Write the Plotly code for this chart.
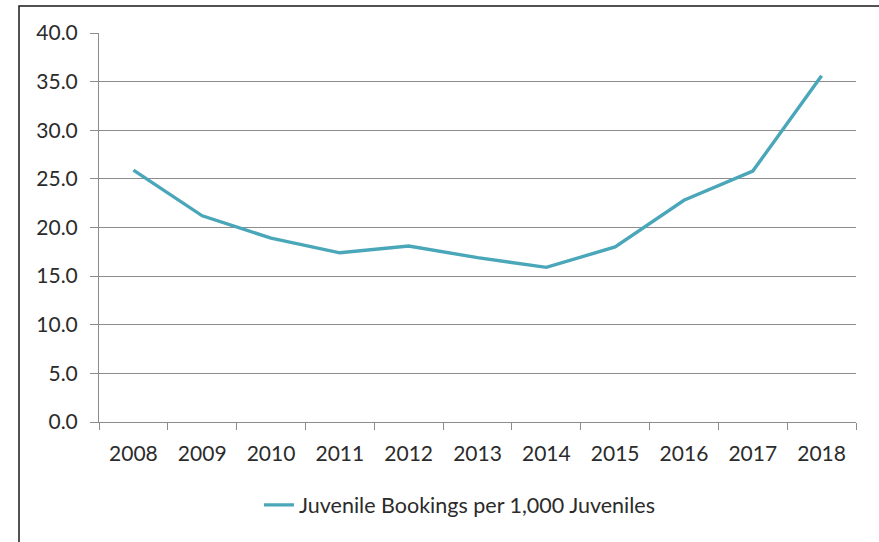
import plotly.graph_objects as go

years = ["2008", "2009", "2010", "2011", "2012", "2013", "2014", "2015", "2016", "2017", "2018"]
bookings = [25.9, 21.2, 18.9, 17.4, 18.1, 16.9, 15.9, 18.0, 22.8, 25.8, 35.6]
y_ticks = [0, 5, 10, 15, 20, 25, 30, 35, 40]
y_tick_labels = ["0.0", "5.0", "10.0", "15.0", "20.0", "25.0", "30.0", "35.0", "40.0"]
series_name = "Juvenile Bookings per 1,000 Juveniles"

font_family = "Lato, 'Open Sans', sans-serif"
text_color = "#2b2b2b"
grid_color = "#8c8c8c"

fig = go.Figure()
fig.add_trace(go.Scatter(
    x=years, y=bookings, mode="lines", name=series_name,
    line=dict(color="#4aa6b9", width=3.4),
))

fig.update_layout(
    width=879, height=542,
    margin=dict(l=99, r=23, t=33, b=120),
    paper_bgcolor="white", plot_bgcolor="white",
    font=dict(family=font_family, size=21, color=text_color),
    showlegend=True,
    legend=dict(
        orientation="h", x=0.2114, xanchor="left", y=-0.213, yanchor="middle",
        font=dict(family=font_family, size=21.5, color=text_color),
        bgcolor="rgba(0,0,0,0)",
    ),
    xaxis=dict(
        type="category", range=[-0.5, 10.5],
        tickson="boundaries", ticks="outside", ticklen=7, tickcolor=grid_color,
        showline=True, linecolor=grid_color, linewidth=1,
        showgrid=False, zeroline=False,
        tickfont=dict(size=21), ticklabelstandoff=13,
    ),
    yaxis=dict(
        range=[0, 40], tickvals=y_ticks, ticktext=y_tick_labels,
        ticks="outside", ticklen=8, tickcolor=grid_color,
        showline=True, linecolor=grid_color, linewidth=1,
        showgrid=True, gridcolor=grid_color, gridwidth=1,
        zeroline=False, tickfont=dict(size=21), ticklabelstandoff=8,
    ),
    shapes=[dict(
        type="rect", xref="paper", yref="paper",
        x0=(19 - 99) / 757, x1=1.2, y0=-0.5, y1=1 + (33 - 6) / 389,
        line=dict(color="#1a1a1a", width=1.5), layer="below",
    )],
)

fig.write_html(
    "out.html",
    config={"displayModeBar": False},
    post_script="document.body.style.margin='0';document.body.style.overflow='hidden';",
)
